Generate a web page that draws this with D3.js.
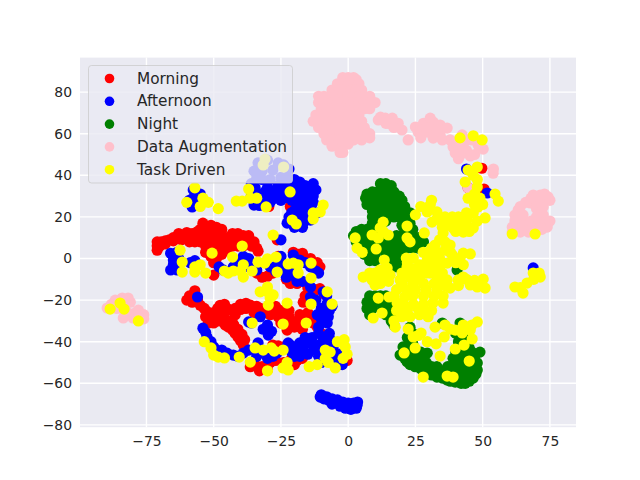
<!DOCTYPE HTML>
<html>
<head>
<meta charset="utf-8">
<script src="https://d3js.org/d3.v7.min.js"></script>
<style>
 body { margin: 0px; background: white; }
 text { font-family: "DejaVu Sans", sans-serif; fill: #262626; }
</style>
</head>
<body>
<svg id="mysvg"></svg>
<script>
var xTicks = [-75, -50, -25, 0, 25, 50, 75];
var yTicks = [-80, -60, -40, -20, 0, 20, 40, 60, 80];

var morning = [
 // upper band
 [-71,4],[-71,6],[-71,8],[-69.5,8],[-68,8.5],[-66.5,9],[-65,10],[-63.5,10],[-62,11],[-60.5,10.5],[-59,9.5],[-57.5,10],[-56,11],[-70,6],[-68,7],[-65,8.5],[-62,9],[-59,8],[-57,8],[-58,12],[-60,12.5],[-56,13],[-63,12],
 [-55,8],[-55,11],[-55,14],[-54,17],[-53,15],[-53,12],[-53,9],[-53,6],[-53,3],[-51,16],[-51,13],[-51,10],[-51,7],[-51,4],[-51,1],[-50,-2],[-49,15],[-49,12],[-49,9],[-49,6],[-49,3],[-49,0],
 [-47,14],[-47,11],[-47,8],[-47,5],[-47,2],[-45,10],[-45,7],[-45,4],[-43,12],[-43,9],[-43,6],[-41,12],[-41,9],[-41,6],[-39,11],[-39,8],[-39,6],[-37,11],[-37,8],[-36,6],[-35,8],[-34,5],[-33.5,3.5],
 [-50,-8],[-34,-7],[-32,-9],[-30,-8.5],[-28,-7],[-26,-4],[-24,-5],[-26,1],[-20.4,3],[-18.5,2],[-17,2.5],[-14,0],[-11.5,-2],[-10.5,-4],[-21.5,-12],[-19,-12],[-23,-10],
 [-14,-16.5],[-12,-15],[-10.5,-14.5],[-16.7,-21],[-16,-18],[-15,-14],[-9,-17],
 // lower band
 [-60,-20],[-59,-18],[-57,-15.5],[-58,-21],[-56,-20],[-55,-22.5],[-53.5,-24],[-52.5,-25.5],[-51,-28],[-50,-31],[-50,-26],[-48.7,-27],[-48.5,-24],[-47.6,-22.5],[-46,-26],[-45,-24],[-43,-25],[-42,-24],[-40,-24.5],[-38,-24],
 [-36.4,-22.4],[-34,-23],[-32.7,-24],[-30,-24],[-28,-25],[-26,-26],[-31,-26],[-24,-29],[-24,-27],[-22,-28],[-21,-30],[-19,-30.5],[-17,-28],[-15,-26],[-15,-30],[-13,-31],[-11.5,-33],[-10,-36],[-29,-27],[-26,-28],[-22.7,-34.4],[-20,-33],[-17,-34],
 [-38,-21.5],[-40,-22],[-35,-26],[-33,-27],[-42,-27],[-46,-22],[-27,-23],[-25,-25],[-22,-25],[-18,-27],[-18,-33],[-14,-28],[-25,-31],[-53,-28],[-52,-31],[-48,-30],
 [-45.7,-32],[-44.5,-33],[-43,-34.4],[-42,-36],[-41,-37.7],[-40,-39.5],[-39,-41.6],[-44,-30],[-42.5,-32],[-41,-34],[-39.5,-36.5],[-38.5,-39],[-46,-29],[-43,-31],[-28,-41.6],[-26,-42],[-24,-42.5],
 [-36.4,-52],[-36,-50],[-34,-52],[-35,-50],[-32,-52],[-30,-53.5],[-33,-54],[-29,-50],[-27,-49],[-22.7,-52.7],[-24,-50],[-19,-49],[-21,-48],[-17,-48],[-20,-51],
 [-0.4,-49],[-31,26],[-29.5,25],[-21.5,25],[-26.4,9],[49.7,43.4],[50.5,33.4],[44.6,34]
];

var afternoon = [
 // patch under the legend
 [-33.5,46],[-30,47.3],[-24,45],[-34,38.7],[-28,42.5],[-32,42],[-26,46],[-22,43],[-35,42],[-22.7,39],[-29,38],[-32,38],[-25,39],[-36,36],[-24,36],[-20,38],
 // top cluster
 [-29,30.5],[-27,33],[-25,31.4],[-21,36.8],[-18,36.8],[-16,35],[-14,34],[-12,33],[-21.6,31.4],[-24,33],[-18,33],[-15,31],[-13,30],[-18,29.6],[-21,28],[-25,28],[-29,27],[-31,28],
 [-15.3,24.8],[-18,23.3],[-16.7,17],[-14,18.5],[-11.5,22],[-22.7,17],[-20,15],[-17,15],[-17,20],[-14,21],[-14,24],[-13,27],[-19,26],
 [-31,32],[-27,29],[-23,30],[-21,34],[-19,32],[-16,32],[-13,36],[-16,28],[-20,23],[-22,20],[-19,19],[-16,26],[-21,22],[-16,22],[-24,29],[-26,35],[-30,34],
 [-35,25.7],[-33,25.5],[-34.6,34],[-36,30],[-33,31],
 [-57.6,33],[-59,28],[-58,24.8],[-55,26],[-57.6,29],[-55,31],[-25,9],
 // second band
 [-66,2.5],[-65,-0.7],[-66,-5.5],[-63.6,-5.5],[-63.6,3],[-65,-3],[-63,0],[-58.7,-2],[-57,-1],[-46.5,-5.5],[-48,-4],[-42.7,-4],[-39,1],[-37,0],[-40,-2],[-37,-4],[-34,-5.5],[-25,1],[-26,-2],[-29,-4],[-27,-6],[-24,-4],
 [-22.7,-7],[-21,-8],[-20.4,1.7],[-18,-0.7],[-21,-3],[-16,-2],[-14,-4],[-12,-6],[-11,-7],[-19,-11],[-17,-11],[-23,-9],[-14,-13.7],[-14,-18.5],[-12,-20],[-9.3,-16],[-8,-18],[-7.8,-21.6],[-7,-25],[-7.4,-28],[-7.8,-31],[-10,-24],
 [-11.5,-27],[-10,-29],[-11,-33],[-8,-26],[-6,-23],[-56,-18.5],[-32.7,-28],[-37,-30.5],[-36,-31],[-31.6,-34],[-29.7,-36.8],[-30,-32],[-28.5,-35],
 // lower arc
 [-54,-33.5],[-53,-35.5],[-52.5,-37.7],[-51,-40],[-50,-42.5],[-47,-44],[-45,-45.5],[-42.7,-46.4],[-39,-45.5],[-41,-47],[-37,-44],[-33.5,-40.6],[-33,-45],[-30,-48],[-28,-47],[-26.4,-45.5],[-34,-47],[-22.3,-40.6],[-21,-42],
 [-18,-40.6],[-19,-44],[-16.7,-44],[-18,-47],[-21,-45],[-16,-41],[-13.4,-38],[-9.3,-38],[-11,-36],[-7,-36],[-11,-41.6],[-11,-47],[-12,-44],[-5.6,-43],[-4,-49],[-2.2,-51],[-6.7,-39],[-8,-43],[-10,-50],[-3,-46],[-6,-48],
 [-23,-43],[-15,-46],[-20,-47],[-16,-38],[-13,-42],[-9,-42],[-9,-46],[-6,-46],
 // bottom tail
 [-10.4,-66.6],[-9,-67.5],[-7.4,-68],[-5.5,-69],[-4,-69.5],[-2.5,-70.5],[-1,-71],[0.5,-71.4],[1.5,-71.4],[3.3,-70.5],
 [-10,-65.5],[-8,-66.5],[-6,-67.5],[-4,-68],[-2,-69],[0,-69.5],[2,-69.5],[3.5,-69],[-1,-72],[1,-72.5],[3,-72],[-3,-71],[-6,-70],
 [68.8,-4.5],[44,43],[51.7,31.5]
];

var night = [
 [12,36],[14,36],[16,35],[7,31],[9,32],[11,32],[13,33],[15,32],[17,32],[19,30],[6.5,29],[8,29],[10,29],[12,29],[14,29],[16,29],[18,29],[20,28],
 [7,26],[10,26],[12,26],[15,26],[17,26],[20,26],[21,25],[9,23],[11,23],[13,23],[15,23],[17,23],[19,23],[21,23],[23,22],[9,20],[11,20],[13,20],[15,20],[17,20],[19,20],[21,20],[23,20],
 [9,17],[11,17],[14,18],[20,16],[23,17],[24,14],[3,13],[5,14],[7,14],[9,14],[11,13],[21,13],[23,12],[2,11],[4,11],[6,11],[8,11],[10,11],[18,11],[20,11],[22,10],[24,10],[26,10],
 [3,8],[5,8],[7,8],[9,8],[11,8],[14,8],[16,8],[18,8],[20,8],[22,7],[24,8],[26,8],[28,8],[4,5],[6,5],[8,5],[10,5],[12,5],[14,5],[16,5],[18,5],[20,5],[22,5],[24,5],[26,5],
 [6,2],[8,2],[10,2],[14,2],[16,2],[18,2],[20,2],[8,-1],[10,-1],[14,-1],[16,-1],[18,-1],[20,-1],[16,-4],[18,-4],[40.5,-5.5],
 [8,-18],[10,-18],[12,-18],[14,-18],[7,-21],[9,-21],[11,-21],[13,-21],[15,-21],[7,-24],[9,-24],[13,-24],[15,-24],[8,-27],[14,-27],[16,-27],[16,-30],[17,-32],
 [19.3,-46.4],[21,-48],[21.9,-49.7],[23,-51],[24.9,-52],[27,-53],[29.4,-55],[31,-56],[33,-57],[35,-57.5],[36.8,-58.4],[38,-59],[39.8,-59.4],[42,-60],[43.5,-60],[45,-59],[46.5,-57.5],[47.5,-55.5],[48,-53.6],[48,-50.2],[49,-45],
 [44,-55],[42,-57],[41,-55],[39,-56],[42,-52],[45,-50],[45,-53],[41.6,-47.4],[43,-42],[41,-44],[41.6,-31],[35,-31],[44,-47],[46,-47],[29.4,-45.5],[27,-49],[25,-47],[23,-46],[31,-52],[35,-54],[33,-52],[29,-50],
 [37,-55],[22,-38],[23,-33],[24,-36],[20.4,-42.5],[22,-42],[24,-44],[27,-45],[40,-45],[42,-37],[38,-52],[43,-46],[43,-49],[40,-50],[41,-40],[40,-36],
 [21,-45],[25,-50],[28,-51],[31,-54],[34,-55],[36,-55],[40,-53],[44,-51],[46,-52],[46,-45],[37,-52],[39,-48],[45,-43],[44,-38],[47,-47],[24,-41]
];

var dataAugmentation = [
 // top cluster
 [-2,87],[0,87],[2,87],[3,86],[-4,84],[-2,84],[0,84],[2,84],[4,84],[-6,81],[-3,81],[-1,81],[1,81],[3,81],[5,81],
 [-11,78],[-9,78],[-7,78],[-5,78],[-2,78],[0,78],[2,78],[4,78],[6,78],[8,78],[-11,75],[-9,75],[-6,75],[-4,75],[-2,75],[0,75],[2,75],[4,75],[6,75],[8,75],[10,75],
 [-10,72],[-8,72],[-6,72],[-4,72],[-2,72],[0,72],[2,72],[4,72],[6,72],[8,72],[-12,69],[-10,69],[-8,69],[-5,69],[-2,69],[0,69],[2,69],[4,69],
 [-13,66],[-11,66],[-8,66],[-6,66],[-3,66],[0,66],[3,66],[5,66],[-11,63],[-8,63],[-5,63],[-2,63],[1,63],[4,63],[6,63],
 [-9,60],[-6,60],[-3,60],[0,60],[3,60],[6,60],[8,60],[-8,57],[-6,57],[-3,57],[0,57],[2,57],[5,57],[8,58],[-6,54],[-4,54],[-2,54],[0,55],[-3,51],[-2,51],
 // arc to the right
 [11.2,66.6],[13.8,67.5],[16.4,67.5],[18.6,65],[20,61.8],[22.3,57],[25,63.2],[26,60.8],[28,65],[30.5,67.5],[29.4,60.8],[31.6,65.6],[29,63],[32,62],[31.6,57.9],[34.2,64.2],[36.8,62.7],[34.2,59.4],[37.9,57],[39,53.6],[39.8,50.7],
 [14,65],[12,68],[15,65],[17,63],[27,58],[33,61],[35,57],[40,56],[41,48],[44,52],[47,50],
 [42.8,50.7],[45.4,49.3],[42.4,59.4],[46,57],[44,57],[42.8,53],[50.2,52.6],[48.3,54.6],[53.9,41],[54,43],[44.6,34],
 // right cluster
 [71.4,30.5],[68.8,30.5],[74.3,29.6],[67.7,26.7],[70,28],[72.5,27],[72.5,24.8],[70,24],[72.5,21],[72.5,19.4],[74,17],[74,15.1],[71,18],[63.2,23.3],[62,20.9],[65,21],[65,18.5],[61,15.1],[63,16],[66.5,15.1],[68,16],[70.3,15.1],[72,14],[61,12.7],[64,12.7],[67,12.7],[69,12.7],
 [64,25],[62,18],[65,16],[68,18],[70,20],[70,27],[75,28],[75,18],[68,29],[66,27],[73,31],
 // left cluster
 [-89.6,-23.8],[-88,-22],[-86.6,-20],[-85,-21],[-84,-19],[-81.8,-19],[-81,-21],[-83,-22],[-86,-24],[-78,-24.8],[-79,-26],[-76,-27],[-76,-29],[-83.6,-28.6],[-80,-28.6],[-84,-24],[-82,-26],[-77,-29]
];

var taskDriven = [
 // left half
 [-57,34],[-60,27],[-54,29],[-52,27],[-55,25],[-48.3,24],[-41.6,27.6],[-39.4,27.6],[-37,33.4],[-36.4,29],[-34,29],[-30.5,24.8],[-21.6,32],[-20.8,18.5],[-19.3,16.6],[-13,19],[-13,21.9],[-10.4,22.4],[-9.3,25.7],
 [-30.9,47.8],[-31.6,45],[-24,44],[-27.9,11.3],[-62.5,4],[-61.7,-1.7],[-61.7,-6.5],[-57,-4],[-55,-3],[-57,-6.5],[-53,-7],[-50.6,2.6],[-46,-6],[-42.7,-6],[-44.6,-7],[-43,0.7],[-39.4,6],[-39,-3],[-40,-6],[-39,-8.9],
 [-35.7,-6],[-33.5,-1.7],[-30,-0.2],[-31,-2.2],[-26.8,0.7],[-26.4,-6.5],[-22.3,-2.6],[-20.4,-2.2],[-18.6,-3],[-18.6,-7],[-13.8,-2.2],[-13.8,-9.4],[-30,-13.7],[-32.7,-16],[-30,-16],[-27.9,-17.5],[-29.7,-22.4],[-29,-19],
 [-22.7,-21.4],[-7.8,-16],[-6,-21.9],[-13.8,-21.9],[-35.7,-31],[-24.2,-31.5],[-15.6,-31],[-53.5,-40],[-51,-43],[-50,-46.4],[-48.3,-47.4],[-46,-47.8],[-40.5,-47.4],[-36.4,-49.8],[-34.6,-43],[-31.6,-44],[-28.6,-43],[-27.5,-44.5],
 [-24.2,-44],[-30,-54],[-22.7,-50],[-24.2,-52.6],[-22.3,-53.6],[-14.5,-52],[-11.5,-51],[-8.5,-44],[-8.5,-48],[-7.4,-50],[-4.8,-52.6],[-6.7,-45],[-4,-40],[-1.5,-39],[-1.1,-42.5],[-0.4,-46],[-1.9,-48],
 [-88.5,-24.3],[-84.8,-21.4],[-83.3,-24.3],[-78,-30],
 // upper right arm
 [41.6,58],[46.5,59],[49.8,57],[48,44],[44.6,42.5],[46.5,40],[48,38],[43.5,36.8],[48,34.4],[47,31],[54.6,31],[55.8,27.6],[44.6,29],[49,29],[47,26],[50,26],
 [30.5,25.7],[29.4,22.4],[33,22.4],[31.2,17.5],[34.9,17.5],[38.7,20],[37,16],[41.6,17],[44.2,18.5],[46.5,21.9],[48.3,24.8],[50.9,19.5],[46.5,14.7],[42.8,12.7],[39,14.7],[35.3,12.3],[36,8],[37.9,6.5],[32.3,6.5],[31,5],[27.9,3],
 [44,15],[48,18],[44,22],[41,20],[38,17],[42,15],[35,15],[33,19],[27,25],[31,28],[40,13],[36,20],[45,13],
 [34,9],[33,3],[36,4],[38,3],[34,0],[31,1],[42.8,2.6],[45.4,2.2],[38.7,1.7],[41.6,0.2],[42.8,-3],[40,-2],[36.8,-2.2],[34,-4],[29.4,-0.7],[25,21],[21.9,15.6],[28.3,12.3],[21.9,9.9],[23,8],[13,17.5],[11.9,14.7],[14.9,11.3],[13,13],[8.9,11.3],[11.2,9.9],[2.6,9.9],[3.3,5],[5.2,3],[10.4,4.6],[13.4,-0.7],
 // middle left arm
 [5.6,-8.9],[8,-7],[8.9,-10.3],[10,-12.7],[11.9,-5.5],[14.5,-4.6],[15.6,-8],[11.9,-9],[13.5,-7],[15,-11],[10,-7],[12,-12],
 // main mass
 [21.6,0.2],[24.2,0.2],[21.9,-4],[24.2,-5],[26.5,-3],[22,-2],[29,-4],[31,-3],[19.3,-10.3],[20,-7],[23,-7],[26,-7],[29,-7],[32,-7],[35,-7],[23,-9],[26.5,-10],[30.5,-7],[33,-8.9],[36.8,-10.3],[40.9,-10.3],[42.8,-8.9],[45.4,-12.7],[48,-13.7],[50.2,-9.9],[50.9,-14.2],[47,-10.5],[44,-10],[41,-13],[37.9,-14.2],[34,-12],
 [18,-15],[20,-12],[21.6,-15],[25,-15],[29,-15],[33,-15],[36,-13],[35.3,-21.4],[35.3,-18],[31.5,-21.4],[28,-22],[24.2,-22],[20.5,-22],[18.2,-21.4],[17,-18],[20,-28],[23,-28],[26.5,-27],[29.7,-28],[17.5,-33],[17,-30],[18,-25],[24,-18],[28,-18],[32,-18],[21,-18.5],[24,-12],[28,-12],[32,-12],[22,-25],[26,-24],[31,-25],[19,-24],[29,-26],
 [11.2,-19],[15.2,-18.5],[9.3,-28.6],[12.6,-26.2],
 // lower scatter
 [22.3,-33.9],[24.2,-37.7],[27.1,-35.8],[26,-37],[29.4,-40],[32.7,-41],[32.3,-33],[36,-32],[35.7,-37.7],[39.8,-34.4],[42.8,-32],[42.4,-35.8],[38,-34],[45.4,-34.4],[48,-30.5],[46,-32],[46.1,-38.7],[43.1,-41.6],[39.8,-43.5],[34.2,-46.9],[20.8,-45.4],[24.9,-43],[45,-49.3],[27.9,-57],[36.8,-56.5],[39,-57],
 // right clusters
 [61,11.8],[69.5,11.8],[62,-13.7],[65,-16.6],[66.5,-11.8],[64,-14],[68.8,-7],[71.4,-8.9],[69,-10],[71,-7]
];

var seriesNames = ["Morning", "Afternoon", "Night", "Data Augmentation", "Task Driven"];
var seriesColors = ["red", "blue", "green", "pink", "yellow"];
var seriesValues = [morning, afternoon, night, dataAugmentation, taskDriven];

var width = 640, height = 480;
var left = 80, right = 576, top_ = 57.6, bottom = 427.2;

var svg = d3.select("#mysvg")
  .attr("width", width)
  .attr("height", height);

var xScale = d3.scaleLinear().domain([-99.7, 84.7]).range([left, right]);
var yScale = d3.scaleLinear().domain([-81.1, 96.6]).range([bottom, top_]);

svg.append("rect")
  .attr("x", left).attr("y", top_)
  .attr("width", right - left).attr("height", bottom - top_)
  .attr("fill", "#EAEAF2");

// white grid, seaborn look
svg.append("g").selectAll("line").data(xTicks).enter().append("line")
  .attr("x1", function(d){ return xScale(d); })
  .attr("x2", function(d){ return xScale(d); })
  .attr("y1", top_).attr("y2", bottom)
  .attr("stroke", "white").attr("stroke-width", 1.4);
svg.append("g").selectAll("line").data(yTicks).enter().append("line")
  .attr("y1", function(d){ return yScale(d); })
  .attr("y2", function(d){ return yScale(d); })
  .attr("x1", left).attr("x2", right)
  .attr("stroke", "white").attr("stroke-width", 1.4);

var xAxis = d3.axisBottom(xScale).tickValues(xTicks).tickSize(0).tickPadding(9);
var yAxis = d3.axisLeft(yScale).tickValues(yTicks).tickSize(0).tickPadding(8);

var gx = svg.append("g").attr("transform", "translate(0," + bottom + ")").call(xAxis);
var gy = svg.append("g").attr("transform", "translate(" + left + ",0)").call(yAxis);
gx.select(".domain").remove();
gy.select(".domain").remove();
svg.selectAll(".tick text").style("font-size", "13.9px").style("font-family", "'DejaVu Sans'").attr("fill", "#262626");

seriesValues.forEach(function(values, i){
  svg.append("g").selectAll("circle").data(values).enter().append("circle")
    .attr("cx", function(d){ return xScale(d[0]); })
    .attr("cy", function(d){ return yScale(d[1]); })
    .attr("r", 5.6)
    .attr("fill", seriesColors[i]);
});

// legend on top of the points
var legend = svg.append("g");
legend.append("rect")
  .attr("x", 88.5).attr("y", 65.5)
  .attr("width", 204).attr("height", 117.5)
  .attr("rx", 3)
  .attr("fill", "#EAEAF2").attr("fill-opacity", 0.8)
  .attr("stroke", "#CCCCCC").attr("stroke-opacity", 0.8);

seriesNames.forEach(function(name, i){
  var y = 78.5 + i * 22.8;
  legend.append("circle")
    .attr("cx", 109.5).attr("cy", y)
    .attr("r", 4.8)
    .attr("fill", seriesColors[i]);
  legend.append("text")
    .attr("x", 137).attr("y", y + 5)
    .style("font-size", "15.3px")
    .text(name);
});
</script>
</body>
</html>
